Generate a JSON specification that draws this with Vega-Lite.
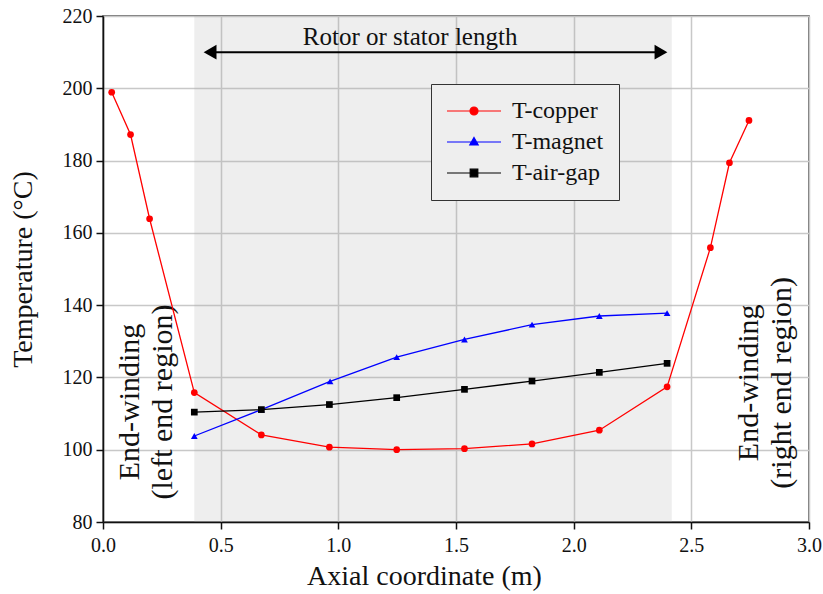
{
  "$schema": "https://vega.github.io/schema/vega-lite/v6.json",
  "width": 706,
  "height": 506,
  "autosize": {"type": "none"},
  "padding": {"left": 103, "top": 16, "right": 14, "bottom": 72},
  "background": "white",
  "config": {
    "font": "Liberation Serif",
    "style": {
      "guide-label": {"font": "Liberation Serif", "fontSize": 20, "fill": "#111"},
      "guide-title": {"font": "Liberation Serif", "fontSize": 28, "fill": "#111", "fontWeight": "normal"}
    },
    "view": {"stroke": "#444", "strokeWidth": 1.5},
    "axis": {
      "labelFont": "Liberation Serif", "titleFont": "Liberation Serif",
      "labelFontSize": 20, "titleFontSize": 28, "titleFontWeight": "normal",
      "labelColor": "#111", "titleColor": "#111",
      "domainColor": "#111", "domainWidth": 1.5,
      "tickColor": "#111", "tickWidth": 1.5, "tickSize": 7,
      "gridColor": "#c8c8c8", "gridWidth": 1.5
    },
    "legend": {"labelFont": "Liberation Serif", "labelFontSize": 24, "labelColor": "#111"}
  },
  "datasets": {
    "temps": [
      {"x": 0.037, "T": 198.9, "series": "T-copper"},
      {"x": 0.117, "T": 187.2, "series": "T-copper"},
      {"x": 0.198, "T": 163.9, "series": "T-copper"},
      {"x": 0.388, "T": 115.8, "series": "T-copper"},
      {"x": 0.673, "T": 104.1, "series": "T-copper"},
      {"x": 0.962, "T": 100.7, "series": "T-copper"},
      {"x": 1.248, "T": 100.0, "series": "T-copper"},
      {"x": 1.536, "T": 100.3, "series": "T-copper"},
      {"x": 1.823, "T": 101.6, "series": "T-copper"},
      {"x": 2.109, "T": 105.4, "series": "T-copper"},
      {"x": 2.397, "T": 117.4, "series": "T-copper"},
      {"x": 2.581, "T": 155.9, "series": "T-copper"},
      {"x": 2.662, "T": 179.4, "series": "T-copper"},
      {"x": 2.745, "T": 191.1, "series": "T-copper"},
      {"x": 0.388, "T": 103.8, "series": "T-magnet"},
      {"x": 0.673, "T": 111.1, "series": "T-magnet"},
      {"x": 0.965, "T": 118.9, "series": "T-magnet"},
      {"x": 1.248, "T": 125.6, "series": "T-magnet"},
      {"x": 1.536, "T": 130.5, "series": "T-magnet"},
      {"x": 1.823, "T": 134.6, "series": "T-magnet"},
      {"x": 2.109, "T": 137.0, "series": "T-magnet"},
      {"x": 2.397, "T": 137.8, "series": "T-magnet"},
      {"x": 0.388, "T": 110.4, "series": "T-air-gap"},
      {"x": 0.673, "T": 111.1, "series": "T-air-gap"},
      {"x": 0.962, "T": 112.5, "series": "T-air-gap"},
      {"x": 1.248, "T": 114.4, "series": "T-air-gap"},
      {"x": 1.536, "T": 116.7, "series": "T-air-gap"},
      {"x": 1.823, "T": 119.0, "series": "T-air-gap"},
      {"x": 2.109, "T": 121.4, "series": "T-air-gap"},
      {"x": 2.397, "T": 123.9, "series": "T-air-gap"}
    ],
    "labels": [
      {"x": 0.113, "T": 113.2, "text": "End-winding"},
      {"x": 0.253, "T": 113.2, "text": "(left end region)"},
      {"x": 2.745, "T": 118.5, "text": "End-winding"},
      {"x": 2.886, "T": 118.5, "text": "(right end region)"}
    ]
  },
  "layer": [
    {
      "data": {"values": [{"x1": 0.388, "x2": 2.417, "y1": 80, "y2": 220}]},
      "mark": {"type": "rect", "fill": "#a8a8a8", "opacity": 0.2},
      "encoding": {
        "x": {"field": "x1", "type": "quantitative", "scale": {"domain": [0, 3], "nice": false},
              "axis": {"values": [0, 0.5, 1, 1.5, 2, 2.5, 3], "format": ".1f", "title": "Axial coordinate (m)", "titlePadding": 7, "labelPadding": 6, "labelFlush": false,
                       "titleX": 321, "titleAlign": "center",
                       "labelFont": "Liberation Serif", "labelFontSize": 20, "titleFont": "Liberation Serif", "titleFontSize": 28}},
        "x2": {"field": "x2"},
        "y": {"field": "y1", "type": "quantitative", "scale": {"domain": [80, 220], "nice": false},
              "axis": {"values": [80, 100, 120, 140, 160, 180, 200, 220], "title": "Temperature (°C)", "titlePadding": 25, "labelPadding": 4, "labelFlush": false,
                       "labelFont": "Liberation Serif", "labelFontSize": 20, "titleFont": "Liberation Serif", "titleFontSize": 28}},
        "y2": {"field": "y2"}
      }
    },
    {
      "data": {"values": [{"a": 0.46, "b": 2.37, "T": 210}]},
      "mark": {"type": "rule", "color": "black", "strokeWidth": 2},
      "encoding": {
        "x": {"field": "a", "type": "quantitative"},
        "x2": {"field": "b"},
        "y": {"field": "T", "type": "quantitative"}
      }
    },
    {
      "data": {"values": [{"x": 0.455, "T": 210, "dir": "left"}, {"x": 2.371, "T": 210, "dir": "right"}]},
      "mark": {"type": "point", "filled": true, "color": "black", "size": 220, "opacity": 1},
      "encoding": {
        "x": {"field": "x", "type": "quantitative"},
        "y": {"field": "T", "type": "quantitative"},
        "shape": {"field": "dir", "type": "nominal", "scale": {"domain": ["left", "right"], "range": ["triangle-left", "triangle-right"]}, "legend": null}
      }
    },
    {
      "data": {"values": [{"x": 1.305, "T": 214.1, "text": "Rotor or stator length"}]},
      "mark": {"type": "text", "font": "Liberation Serif", "fontSize": 25, "color": "#111", "align": "center", "baseline": "middle"},
      "encoding": {
        "x": {"field": "x", "type": "quantitative"},
        "y": {"field": "T", "type": "quantitative"},
        "text": {"field": "text"}
      }
    },
    {
      "data": {"name": "labels"},
      "mark": {"type": "text", "font": "Liberation Serif", "fontSize": 30, "color": "#111", "align": "center", "baseline": "middle", "angle": 270},
      "encoding": {
        "x": {"field": "x", "type": "quantitative"},
        "y": {"field": "T", "type": "quantitative"},
        "text": {"field": "text"}
      }
    },
    {
      "data": {"name": "temps"},
      "mark": {"type": "line", "strokeWidth": 1.3},
      "encoding": {
        "x": {"field": "x", "type": "quantitative"},
        "y": {"field": "T", "type": "quantitative"},
        "color": {"field": "series", "type": "nominal", "scale": {"domain": ["T-copper", "T-magnet", "T-air-gap"], "range": ["#ff0000", "#0000ff", "#000000"]}, "legend": null}
      }
    },
    {
      "data": {"name": "temps"},
      "mark": {"type": "point", "filled": true, "size": 45, "opacity": 1},
      "encoding": {
        "x": {"field": "x", "type": "quantitative"},
        "y": {"field": "T", "type": "quantitative"},
        "color": {"field": "series", "type": "nominal", "scale": {"domain": ["T-copper", "T-magnet", "T-air-gap"], "range": ["#ff0000", "#0000ff", "#000000"]}, "legend": null},
        "shape": {"field": "series", "type": "nominal", "scale": {"domain": ["T-copper", "T-magnet", "T-air-gap"], "range": ["circle", "triangle-up", "square"]}, "legend": null}
      }
    },
    {
      "data": {"name": "temps"},
      "mark": {"type": "point", "filled": false, "size": 400, "opacity": 0, "strokeWidth": 1.2},
      "encoding": {
        "x": {"field": "x", "type": "quantitative"},
        "y": {"field": "T", "type": "quantitative"},
        "color": {"field": "series", "type": "nominal", "scale": {"domain": ["T-copper", "T-magnet", "T-air-gap"], "range": ["#ff0000", "#0000ff", "#000000"]},
          "legend": {"orient": "none", "legendX": 328, "legendY": 68, "title": null, "padding": 15,
            "strokeColor": "#333", "fillColor": "#eeeeee", "symbolOpacity": 1, "symbolSize": 400, "symbolStrokeWidth": 1.2,
            "symbolOffset": 16, "labelOffset": 26, "labelFont": "Liberation Serif", "labelFontSize": 24, "labelColor": "#111", "rowPadding": 7, "labelLimit": 300}},
        "fill": {"field": "series", "type": "nominal", "scale": {"domain": ["T-copper", "T-magnet", "T-air-gap"], "range": ["#ff0000", "#0000ff", "#000000"]},
          "legend": {"orient": "none", "legendX": 328, "legendY": 68, "title": null, "padding": 15,
            "strokeColor": "#333", "fillColor": "#eeeeee", "symbolOpacity": 1, "symbolSize": 400, "symbolStrokeWidth": 1.2,
            "symbolOffset": 16, "labelOffset": 26, "labelFont": "Liberation Serif", "labelFontSize": 24, "labelColor": "#111", "rowPadding": 7, "labelLimit": 300}},
        "shape": {"field": "series", "type": "nominal",
          "scale": {"domain": ["T-copper", "T-magnet", "T-air-gap"], "range": [
            "M-2.7,0H2.7M-0.4,0A0.4,0.4,0,1,1,0.4,0A0.4,0.4,0,1,1,-0.4,0Z",
            "M-2.7,0H2.7M0,-0.45L0.42,0.3L-0.42,0.3Z",
            "M-2.7,0H2.7M-0.38,-0.38H0.38V0.38H-0.38Z"]},
          "legend": {"orient": "none", "legendX": 328, "legendY": 68, "title": null, "padding": 15,
            "strokeColor": "#333", "fillColor": "#eeeeee", "symbolOpacity": 1, "symbolSize": 400, "symbolStrokeWidth": 1.2,
            "symbolOffset": 16, "labelOffset": 26, "labelFont": "Liberation Serif", "labelFontSize": 24, "labelColor": "#111", "rowPadding": 7, "labelLimit": 300}}
      }
    }
  ],
  "resolve": {"scale": {"shape": "independent", "color": "independent", "fill": "independent"}, "legend": {"color": "independent", "shape": "independent", "fill": "independent"}}
}
